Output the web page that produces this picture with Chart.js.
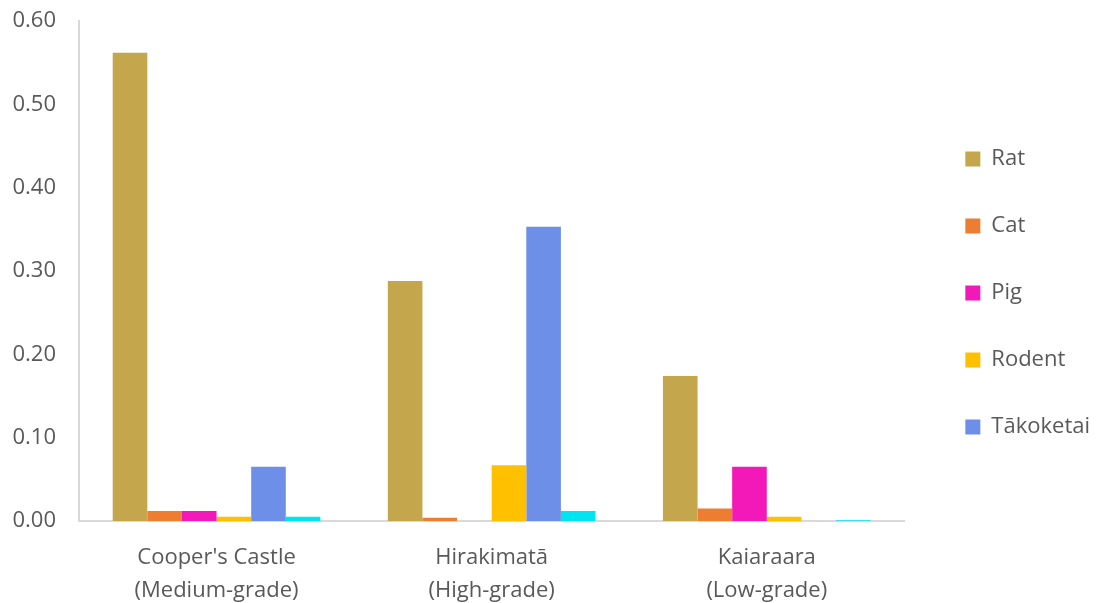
<!DOCTYPE html>
<html>
<head>
<meta charset="utf-8">
<script src="https://cdn.jsdelivr.net/npm/chart.js@4"></script>
<style>
  html, body { margin: 0; padding: 0; background: #fff; }
  #wrap { width: 1098px; height: 603px; }
</style>
</head>
<body>
<div id="wrap"><canvas id="grafico"></canvas></div>
<script>
// sites (two-line labels)
const sitios = [
    ["Cooper's Castle", "(Medium-grade)"],
    ["Hirakimatā", "(High-grade)"],
    ["Kaiaraara", "(Low-grade)"]
];

// values per site
const rat = [0.562, 0.288, 0.174];
const cat = [0.012, 0.004, 0.015];
const pig = [0.012, 0.000, 0.065];
const rodent = [0.005, 0.067, 0.005];
const takoketai = [0.065, 0.353, 0.000];
const other = [0.005, 0.012, 0.001];

const yTicks = [0, 0.1, 0.2, 0.3, 0.4, 0.5, 0.6];

const fonte = "'Open Sans', 'Noto Sans', sans-serif";
const cinza = '#595959';

const ctx = document.getElementById('grafico');

new Chart(ctx, {
    type: 'bar',
    data: {
        labels: sitios,
        datasets: [
            { label: 'Rat', data: rat, backgroundColor: '#C4A64D' },
            { label: 'Cat', data: cat, backgroundColor: '#ED7D31' },
            { label: 'Pig', data: pig, backgroundColor: '#F318B8' },
            { label: 'Rodent', data: rodent, backgroundColor: '#FFC000' },
            { label: 'Tākoketai', data: takoketai, backgroundColor: '#6E8FE7' },
            { label: 'Other', data: other, backgroundColor: '#00E4EF' }
        ]
    },
    options: {
        responsive: true,
        maintainAspectRatio: false,
        animation: false,
        layout: { padding: { top: 21, right: -2, left: 8, bottom: 0 } },
        datasets: {
            bar: { categoryPercentage: 0.755, barPercentage: 1.0 }
        },
        plugins: {
            tooltip: { enabled: false },
            legend: {
                position: 'right',
                align: 'start',
                // empty title just pushes the items down
                title: { display: true, text: ' ', font: { size: 10 }, padding: 35 },
                labels: {
                    boxWidth: 15,
                    boxHeight: 15,
                    padding: 45,
                    color: cinza,
                    font: { family: fonte, size: 22 },
                    filter: function (item) { return item.text !== 'Other'; }
                }
            }
        },
        scales: {
            x: {
                grid: { display: false },
                border: { color: '#D9D9D9', width: 2 },
                ticks: {
                    color: cinza,
                    font: { family: fonte, size: 22, lineHeight: 1.5 },
                    maxRotation: 0,
                    padding: 12
                },
                afterFit: function (scale) { scale.height = 82; }
            },
            y: {
                min: 0,
                max: 0.6,
                grid: { display: false },
                border: { color: '#D9D9D9', width: 2 },
                afterBuildTicks: function (scale) {
                    scale.ticks = yTicks.map(v => ({ value: v }));
                },
                ticks: {
                    color: cinza,
                    font: { family: fonte, size: 22 },
                    padding: 15,
                    callback: function (v) { return Number(v).toFixed(2); }
                },
                afterFit: function (scale) {
                    scale.width = 71;
                    scale.paddingTop = 0;
                }
            },
            // blank spacer between plot and legend
            spacer: {
                position: 'right',
                grid: { display: false },
                border: { display: false },
                ticks: { display: false },
                afterFit: function (scale) { scale.width = 16; }
            }
        }
    }
});
</script>
</body>
</html>
